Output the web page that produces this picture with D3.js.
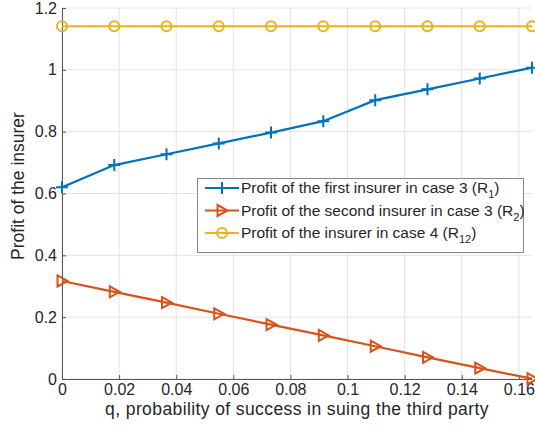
<!DOCTYPE html>
<html lang="en">
<head>
<meta charset="UTF-8">
<title>Profit of the insurer</title>
<script src="https://cdn.jsdelivr.net/npm/d3@7"></script>
<style>
  body { margin: 0; background: #fff; }
  text { font-family: "Liberation Sans", Arial, Helvetica, sans-serif; fill: #262626; }
</style>
</head>
<body>
<div id="fig"></div>
<script>
// q values (10 points)
const qValues = [0, 0.0183, 0.0366, 0.0549, 0.0732, 0.0915, 0.1097, 0.128, 0.1463, 0.1646]
// series
const profitR1 = [0.620, 0.692, 0.727, 0.762, 0.797, 0.834, 0.902, 0.937, 0.972, 1.007]
const profitR2 = [0.317, 0.282, 0.247, 0.211, 0.176, 0.141, 0.106, 0.070, 0.035, 0.001]
const profitR12 = [1.141, 1.141, 1.141, 1.141, 1.141, 1.141, 1.141, 1.141, 1.141, 1.141]
const xTicks = [0, 0.02, 0.04, 0.06, 0.08, 0.1, 0.12, 0.14, 0.16]
const yTicks = [0, 0.2, 0.4, 0.6, 0.8, 1, 1.2]
const seriesNames = ["R1", "R2", "R12"]
const legendLabels = [
  ["Profit of the first insurer in case 3 (R", "1", ")"],
  ["Profit of the second insurer in case 3 (R", "2", ")"],
  ["Profit of the insurer in case 4 (R", "12", ")"]
]
const colors = ["#0072BD", "#D95319", "#EDB120"]

const width = 535, height = 430
const margin = {left: 62, right: 3, top: 8, bottom: 51}

const svg = d3.select("#fig").append("svg")
  .attr("width", width).attr("height", height)

const x = d3.scaleLinear().domain([0, 0.1646]).range([margin.left, width - margin.right])
const y = d3.scaleLinear().domain([0, 1.2]).range([height - margin.bottom, margin.top])

// grid
svg.append("g").selectAll("line.vg").data(xTicks).enter().append("line")
  .attr("x1", d => x(d)).attr("x2", d => x(d))
  .attr("y1", y(0)).attr("y2", y(1.2))
  .attr("stroke", "#e3e3e3").attr("stroke-width", 1)
svg.append("g").selectAll("line.hg").data(yTicks).enter().append("line")
  .attr("x1", x(0)).attr("x2", x(0.1646))
  .attr("y1", d => y(d)).attr("y2", d => y(d))
  .attr("stroke", "#e3e3e3").attr("stroke-width", 1)

// axes
svg.append("g")
  .attr("transform", `translate(0,${y(0)})`)
  .call(d3.axisBottom(x).tickValues(xTicks).tickSizeInner(-4).tickSizeOuter(0).tickPadding(5)
    .tickFormat(d => d3.format("")(+d.toFixed(2))))
svg.append("g")
  .attr("transform", `translate(${x(0)},0)`)
  .call(d3.axisLeft(y).tickValues(yTicks).tickSizeInner(-4).tickSizeOuter(0).tickPadding(5)
    .tickFormat(d => d3.format("")(+d.toFixed(1))))
svg.selectAll(".domain").attr("stroke", "#555").attr("stroke-width", 1)
svg.selectAll(".tick line").attr("stroke", "#555")
svg.selectAll(".tick text").style("font-size", "16px").attr("fill", "#262626")

// axis labels
svg.append("text")
  .attr("x", (x(0) + x(0.1646)) / 2).attr("y", 415)
  .attr("text-anchor", "middle").style("font-size", "17.5px").style("letter-spacing", "0.4px")
  .text("q, probability of success in suing the third party")
svg.append("text")
  .attr("transform", `translate(24,186) rotate(-90)`)
  .attr("text-anchor", "middle").style("font-size", "17.5px")
  .text("Profit of the insurer")

// lines and markers
const allSeries = [profitR1, profitR2, profitR12]
const line = d3.line().x((d, i) => x(qValues[i])).y(d => y(d))

function drawMarker(g, kind, cx, cy, color) {
  if (kind === 0) {
    g.append("path").attr("d", `M${cx - 6},${cy}H${cx + 6}M${cx},${cy - 6}V${cy + 6}`)
      .attr("stroke", color).attr("stroke-width", 2).attr("fill", "none")
  } else if (kind === 1) {
    g.append("path").attr("d", `M${cx - 4.5},${cy - 5.5}L${cx + 5.5},${cy}L${cx - 4.5},${cy + 5.5}Z`)
      .attr("stroke", color).attr("stroke-width", 2).attr("fill", "none")
  } else {
    g.append("circle").attr("cx", cx).attr("cy", cy).attr("r", 5)
      .attr("stroke", color).attr("stroke-width", 2).attr("fill", "none")
  }
}

allSeries.forEach((s, k) => {
  const g = svg.append("g").attr("class", "series-" + seriesNames[k])
  g.append("path").datum(s).attr("d", line)
    .attr("fill", "none").attr("stroke", colors[k]).attr("stroke-width", 2.2)
  s.forEach((v, i) => drawMarker(g, k, x(qValues[i]), y(v), colors[k]))
})

// legend
const legend = svg.append("g")
legend.append("rect")
  .attr("x", 197.5).attr("y", 178.5).attr("width", 326).attr("height", 74)
  .attr("fill", "#fff").attr("stroke", "#888").attr("stroke-width", 1)
legendLabels.forEach((lab, k) => {
  const ly = 188 + k * 22.5
  legend.append("line").attr("x1", 205).attr("x2", 239).attr("y1", ly).attr("y2", ly)
    .attr("stroke", colors[k]).attr("stroke-width", 2.2)
  drawMarker(legend, k, 222, ly, colors[k])
  const t = legend.append("text").attr("x", 241).attr("y", ly + 5)
    .style("font-size", "15.5px")
  t.append("tspan").text(lab[0])
  t.append("tspan").attr("dy", 5).style("font-size", "11px").text(lab[1])
  t.append("tspan").attr("dy", -5).text(lab[2])
})
</script>
</body>
</html>
